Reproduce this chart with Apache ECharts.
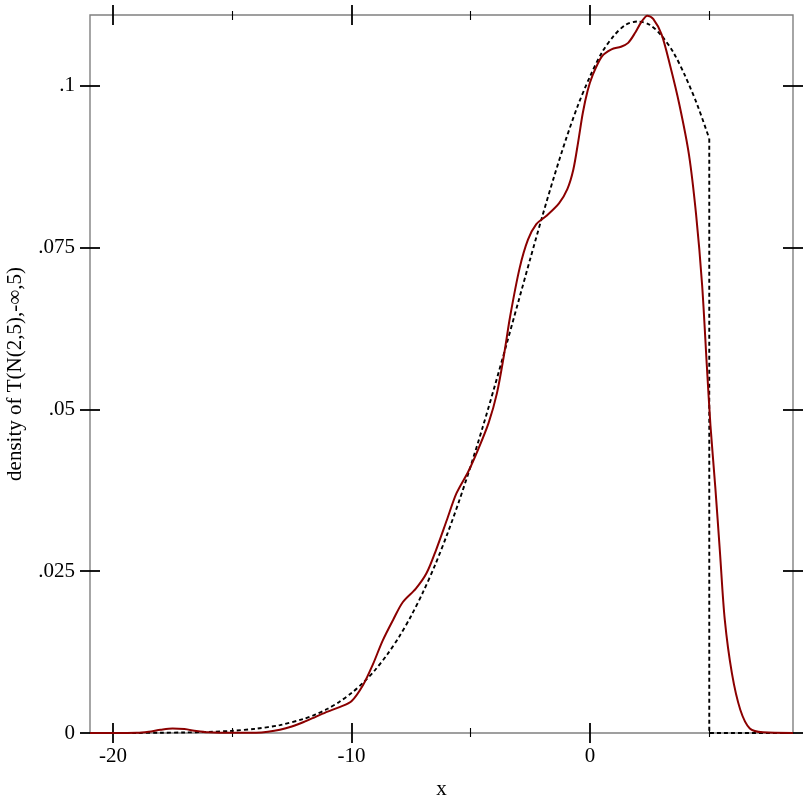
<!DOCTYPE html>
<html>
<head>
<meta charset="utf-8">
<script src="https://cdn.jsdelivr.net/npm/echarts@6/dist/echarts.min.js"></script>
<style>html,body{margin:0;padding:0;background:#fff}#c{width:812px;height:812px}</style>
</head>
<body>
<div id="c"></div>
<script>
// ---- data ----
const xMin = -20.96, xMax = 8.51;
const yMin = 0, yMax = 0.1109;
const xMajorTicks = [-20, -10, 0];
const xMinorTicks = [-15, -5, 5];
const yTicks = [0, 0.025, 0.05, 0.075, 0.1];
const yTickLabels = ['0', '.025', '.05', '.075', '.1'];
const xTitle = 'x';
const yTitle = 'density of T(N(2,5),-\u221E,5)';

// dashed: analytic density
const dashX = [-20.96, -20, -19, -18, -17, -16, -15, -14, -13, -12, -11.5, -11, -10.5, -10, -9.5, -9, -8.5, -8, -7.5, -7, -6.5, -6, -5.5, -5, -4.5, -4, -3.5, -3, -2.5, -2, -1.5, -1, -0.5, 0, 0.5, 1, 1.5, 2, 2.5, 3, 3.5, 4, 4.5, 5];
const dashY = [0, 0.00001, 0.00001, 0.00004, 0.00008, 0.00017, 0.00034, 0.00066, 0.00122, 0.00218, 0.00287, 0.00374, 0.00483, 0.00617, 0.0078, 0.00977, 0.01212, 0.01487, 0.01808, 0.02175, 0.0259, 0.03056, 0.03568, 0.04125, 0.04721, 0.0535, 0.06002, 0.06666, 0.0733, 0.0798, 0.0860, 0.0918, 0.0970, 0.1014, 0.1051, 0.1077, 0.1094, 0.1099, 0.1094, 0.1077, 0.1051, 0.1014, 0.0970, 0.0918];
// dashed: cut-off at the truncation point and zero beyond
const dropX = [5, 5, 8.51];
const dropY = [0.0918, 0, 0];

// red: sample density estimate
const redX = [-20.96, -20, -19, -18.5, -18, -17.5, -17, -16.5, -16, -15, -14, -13.5, -13, -12.5, -12, -11.5, -11, -10.5, -10, -9.5, -9.1, -8.7, -8.25, -7.85, -7.3, -6.85, -6.45, -6.0, -5.6, -5.1, -4.7, -4.25, -3.9, -3.6, -3.35, -2.95, -2.6, -2.25, -1.85, -1.3, -0.95, -0.7, -0.5, -0.3, -0.1, 0.1, 0.5, 0.9, 1.3, 1.6, 1.9, 2.15, 2.4, 2.65, 3.0, 3.35, 3.75, 4.15, 4.45, 4.7, 4.9, 5.05, 5.25, 5.45, 5.65, 5.95, 6.3, 6.7, 7.25, 8.51];
const redY = [0, 0, 0.00003, 0.0002, 0.0005, 0.0007, 0.0006, 0.0003, 0.0001, 0.00002, 0.00005, 0.0002, 0.0005, 0.0010, 0.0017, 0.0025, 0.0033, 0.0040, 0.0049, 0.0075, 0.0106, 0.0142, 0.0175, 0.0202, 0.0223, 0.0247, 0.0283, 0.0329, 0.0370, 0.0404, 0.0437, 0.0479, 0.0525, 0.0585, 0.0643, 0.0718, 0.0762, 0.0786, 0.0798, 0.0818, 0.0840, 0.0870, 0.0912, 0.0958, 0.0992, 0.1015, 0.1045, 0.1056, 0.1060, 0.1066, 0.1082, 0.1098, 0.1108, 0.1103, 0.1079, 0.1032, 0.0970, 0.0893, 0.0800, 0.0692, 0.0566, 0.0475, 0.0381, 0.0278, 0.0175, 0.0092, 0.0036, 0.0007, 0.0001, 0];

const pairs = (xs, ys) => xs.map((x, i) => [x, ys[i]]);

const FONT = 'Liberation Serif, Times New Roman, serif';
const FS = 21;
const GRAY = '#808080';

function xAx(pos, inside, ticks, len, width, labels, name) {
  return {
    type: 'value', position: pos, min: xMin, max: xMax,
    splitLine: { show: false },
    axisLine: { show: false, onZero: false },
    axisTick: { show: true, inside: inside, length: len, customValues: ticks, lineStyle: { color: '#000', width: width } },
    axisLabel: labels ? { show: true, customValues: ticks, margin: 13, color: '#000', fontFamily: FONT, fontSize: FS, formatter: v => String(v) } : { show: false },
    name: name || '', nameLocation: 'middle', nameGap: 46,
    nameTextStyle: { color: '#000', fontFamily: FONT, fontSize: FS }
  };
}
function yAx(pos, inside, labels, name) {
  return {
    type: 'value', position: pos, min: yMin, max: yMax,
    splitLine: { show: false },
    axisLine: { show: false, onZero: false },
    axisTick: { show: true, inside: inside, length: 10, customValues: yTicks, lineStyle: { color: '#000', width: 1.8 } },
    axisLabel: labels ? { show: true, customValues: yTicks, margin: 15, color: '#000', fontFamily: FONT, fontSize: FS,
      formatter: v => { const i = yTicks.findIndex(t => Math.abs(t - v) < 1e-9); return i >= 0 ? yTickLabels[i] : ''; } } : { show: false },
    name: name || '', nameLocation: 'middle', nameGap: 64, nameRotate: 90,
    nameTextStyle: { color: '#000', fontFamily: FONT, fontSize: FS }
  };
}

const chart = echarts.init(document.getElementById('c'), null, { renderer: 'canvas' });
chart.setOption({
  animation: false,
  backgroundColor: '#fff',
  grid: { left: 90, right: 19, top: 15, bottom: 79, outerBoundsMode: 'none', containLabel: false,
          show: true, borderColor: GRAY, borderWidth: 1.4, backgroundColor: 'transparent' },
  xAxis: [
    xAx('bottom', false, xMajorTicks, 10, 1.8, true, xTitle),
    xAx('bottom', true, xMajorTicks, 10, 1.8, false),
    xAx('bottom', false, xMinorTicks, 4, 1.1, false),
    xAx('bottom', true, xMinorTicks, 5, 1.1, false),
    xAx('top', false, xMajorTicks, 10, 1.8, false),
    xAx('top', true, xMajorTicks, 10, 1.8, false),
    xAx('top', false, xMinorTicks, 4, 1.1, false),
    xAx('top', true, xMinorTicks, 5, 1.1, false)
  ],
  yAxis: [
    yAx('left', true, true, yTitle),
    yAx('left', false, false),
    yAx('right', true, false),
    yAx('right', false, false)
  ],
  series: [
    { type: 'line', xAxisIndex: 0, yAxisIndex: 0, data: pairs(dashX, dashY), smooth: 0.3, showSymbol: false, symbol: 'none',
      lineStyle: { color: '#000', width: 1.9, type: [4, 3] }, z: 3 },
    { type: 'line', xAxisIndex: 0, yAxisIndex: 0, data: pairs(dropX, dropY), smooth: false, showSymbol: false, symbol: 'none',
      lineStyle: { color: '#000', width: 1.9, type: [4, 3] }, z: 3 },
    { type: 'line', xAxisIndex: 0, yAxisIndex: 0, data: pairs(redX, redY), smooth: 0.3, showSymbol: false, symbol: 'none',
      lineStyle: { color: '#8b0000', width: 2 }, z: 4 }
  ]
});
</script>
</body>
</html>
